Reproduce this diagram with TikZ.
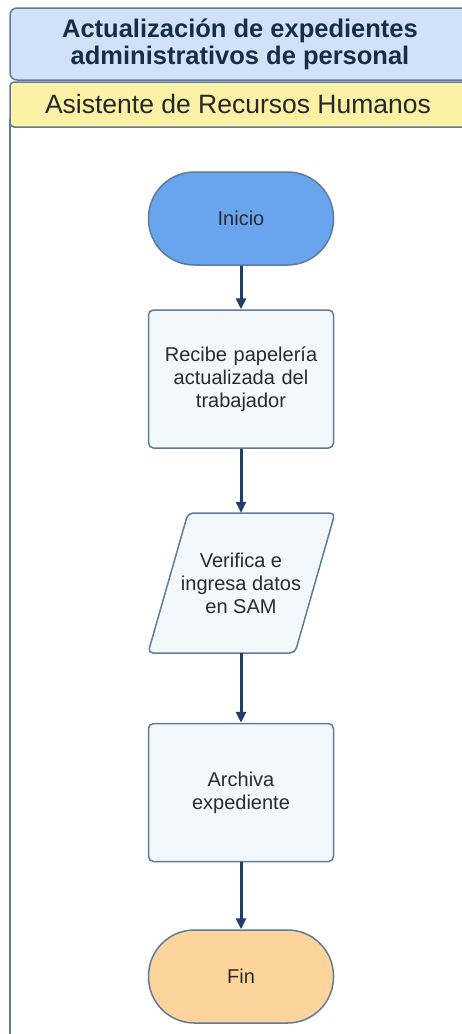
\documentclass[tikz,border=0pt]{standalone}
\usepackage{fontspec}
\setmainfont{Liberation Sans}
\usetikzlibrary{arrows.meta}
\definecolor{titlefill}{HTML}{CFE2F7}
\definecolor{lanefill}{HTML}{FDF1A6}
\definecolor{edgecol}{HTML}{5E7B9C}
\definecolor{boxfill}{HTML}{F3F8FD}
\definecolor{startfill}{HTML}{69A5EF}
\definecolor{endfill}{HTML}{FCD49C}
\definecolor{arrcol}{HTML}{1F3F66}
\definecolor{txtcol}{HTML}{2B2B2B}
\begin{document}
\begin{tikzpicture}[x=1pt,y=-1pt,
  proc/.style={draw=edgecol, line width=1.5pt, fill=boxfill, rounded corners=5pt,
    minimum width=185pt, minimum height=138pt, align=center, text width=170pt,
    text=txtcol, font=\fontsize{20}{23}\selectfont},
  term/.style={draw=edgecol, line width=1.5pt, rounded corners=46pt,
    minimum width=185pt, minimum height=93pt, align=center,
    text=txtcol, font=\fontsize{20}{23}\selectfont},
  arr/.style={draw=arrcol, line width=3pt, -{Triangle[length=11pt,width=10pt]}}]
\useasboundingbox (0,0) rectangle (462,1034);
\clip (0,0) rectangle (462,1034);
% lane
\draw[edgecol, line width=1.5pt, fill=white] (10,120) rectangle (490,1050);
\draw[edgecol, line width=1.5pt, fill=lanefill, rounded corners=4pt] (10,82) rectangle (490,127);
\draw[edgecol, line width=1.5pt, fill=titlefill, rounded corners=7pt] (10,8) rectangle (490,80);
\node[align=center, text=arrcol!70!black, font=\bfseries\fontsize{25.5}{27}\selectfont] (title) at (240,44)
  {Actualización de expedientes\\administrativos de personal};
\node[text=txtcol!90!black, font=\fontsize{26.5}{28}\selectfont] (lane) at (238,104.5)
  {Asistente de Recursos Humanos};
% nodes
\node[term, fill=startfill] (inicio) at (241,218.5) {Inicio};
\node[proc] (recibe) at (241,379) {Recibe papelería\\actualizada del\\trabajador};
\draw[edgecol, line width=1.5pt, fill=boxfill, rounded corners=5pt]
  (188,513) -- (335,513) -- (295,653) -- (148,653) -- cycle;
\node[minimum height=140pt, minimum width=140pt, align=center, inner sep=0pt,
  text=txtcol, font=\fontsize{20}{23}\selectfont] (verifica) at (241,583)
  {Verifica e\\ingresa datos\\en SAM};
\node[proc] (archiva) at (241,792.5) {Archiva\\expediente};
\node[term, fill=endfill] (fin) at (241,976.5) {Fin};
% connectors
\draw[arr] (inicio) -- (recibe);
\draw[arr] (recibe) -- (verifica);
\draw[arr] (verifica) -- (archiva);
\draw[arr] (archiva) -- (fin);
\end{tikzpicture}
\end{document}
